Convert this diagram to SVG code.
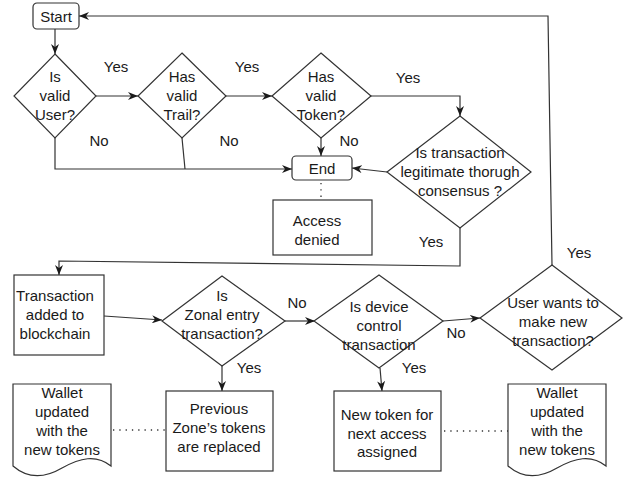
<svg xmlns="http://www.w3.org/2000/svg" width="623" height="478" viewBox="0 0 623 478">
  <style>
    .shape { fill: #ffffff; stroke: #333333; stroke-width: 1.2; }
    .edge { fill: none; stroke: #333333; stroke-width: 1.2; }
    .dot { fill: none; stroke: #333333; stroke-width: 1.3; stroke-dasharray: 1.3 5; }
    text { font-family: "Liberation Sans", Arial, sans-serif; font-size: 15px; fill: #1a1a1a; text-anchor: middle; }
  </style>
  <defs>
    <marker id="arrow" viewBox="0 0 10 8" refX="10" refY="4" markerWidth="10" markerHeight="8" markerUnits="userSpaceOnUse" orient="auto">
      <path d="M0,0 L10,4 L0,8 L3,4 Z" fill="#1a1a1a"/>
    </marker>
  </defs>
  <rect width="623" height="478" fill="#ffffff"/>

  <!-- connectors -->
  <g id="connectors">
    <path class="edge" d="M55,29 L55,54" marker-end="url(#arrow)"/>
    <path class="edge" d="M96,96 L138,96" marker-end="url(#arrow)"/>
    <path class="edge" d="M226,96 L272,96" marker-end="url(#arrow)"/>
    <path class="edge" d="M371,96 L460,96 L460,116" marker-end="url(#arrow)"/>
    <path class="edge" d="M321,138 L321,156" marker-end="url(#arrow)"/>
    <path class="edge" d="M387,172 L352,168" marker-end="url(#arrow)"/>
    <path class="edge" d="M55,138 L55,169 L292,169" marker-end="url(#arrow)"/>
    <path class="edge" d="M182,138 L185,169"/>
    <path class="dot" d="M321,183 L321,200"/>
    <path class="edge" d="M460,228 L460,266 L59,261 L59,275" marker-end="url(#arrow)"/>
    <path class="edge" d="M104,316 L162,320" marker-end="url(#arrow)"/>
    <path class="edge" d="M285,321 L315,321" marker-end="url(#arrow)"/>
    <path class="edge" d="M443,321 L480,318" marker-end="url(#arrow)"/>
    <path class="edge" d="M552,265 L548,16 L79,16" marker-end="url(#arrow)"/>
    <path class="edge" d="M222,366 L222,391" marker-end="url(#arrow)"/>
    <path class="edge" d="M380,368 L382,391" marker-end="url(#arrow)"/>
    <path class="dot" d="M113,430 L166,430"/>
    <path class="dot" d="M444,431 L508,431"/>
    <text x="116" y="72">Yes</text>
    <text x="247" y="72">Yes</text>
    <text x="99" y="146">No</text>
    <text x="229" y="146">No</text>
    <text x="408" y="83">Yes</text>
    <text x="349" y="146">No</text>
    <text x="431" y="247">Yes</text>
    <text x="579" y="258">Yes</text>
    <text x="297" y="308">No</text>
    <text x="456" y="338">No</text>
    <text x="249" y="373">Yes</text>
    <text x="414" y="373">Yes</text>
  </g>

  <g id="start">
    <rect class="shape" x="33" y="3" width="46" height="26" rx="4"/>
    <text x="56" y="22">Start</text>
  </g>

  <g id="valid-user">
    <polygon class="shape" points="55,54 96,96 55,138 14,96"/>
    <text x="55" y="82">Is</text>
    <text x="55" y="101">valid</text>
    <text x="55" y="120">User?</text>
  </g>

  <g id="valid-trail">
    <polygon class="shape" points="182,53 226,96 182,138 138,96"/>
    <text x="182" y="82">Has</text>
    <text x="182" y="101">valid</text>
    <text x="182" y="120">Trail?</text>
  </g>

  <g id="valid-token">
    <polygon class="shape" points="321,53 371,96 321,138 272,96"/>
    <text x="321" y="82">Has</text>
    <text x="321" y="101">valid</text>
    <text x="321" y="120">Token?</text>
  </g>

  <g id="consensus">
    <polygon class="shape" points="460,116 531,172 460,228 387,172"/>
    <text x="460" y="158">Is transaction</text>
    <text x="460" y="177">legitimate thorugh</text>
    <text x="460" y="196">consensus ?</text>
  </g>

  <g id="end">
    <rect class="shape" x="292" y="156" width="60" height="24" rx="4"/>
    <text x="322" y="174">End</text>
  </g>

  <g id="access-denied">
    <rect class="shape" x="273" y="200" width="99" height="55"/>
    <text x="317" y="226">Access</text>
    <text x="317" y="245">denied</text>
  </g>

  <g id="added-to-blockchain">
    <rect class="shape" x="14" y="275" width="90" height="80"/>
    <text x="55" y="301">Transaction</text>
    <text x="55" y="320">added to</text>
    <text x="55" y="339">blockchain</text>
  </g>

  <g id="zonal-entry">
    <polygon class="shape" points="222,276 285,321 222,366 162,321"/>
    <text x="222" y="301">Is</text>
    <text x="222" y="320">Zonal entry</text>
    <text x="222" y="339">transaction?</text>
  </g>

  <g id="device-control">
    <polygon class="shape" points="379,275 443,321 379,368 314,321"/>
    <text x="379" y="312">Is device</text>
    <text x="379" y="331">control</text>
    <text x="379" y="350">transaction</text>
  </g>

  <g id="new-transaction">
    <polygon class="shape" points="552,265 622,318 552,370 480,318"/>
    <text x="553" y="308">User wants to</text>
    <text x="553" y="327">make new</text>
    <text x="553" y="346">transaction?</text>
  </g>

  <g id="zone-tokens-replaced">
    <rect class="shape" x="166" y="391" width="107" height="80"/>
    <text x="219" y="414">Previous</text>
    <text x="219" y="433">Zone’s tokens</text>
    <text x="219" y="452">are replaced</text>
  </g>

  <g id="next-token-assigned">
    <rect class="shape" x="334" y="391" width="107" height="80"/>
    <text x="387" y="420">New token for</text>
    <text x="387" y="439">next access</text>
    <text x="387" y="457">assigned</text>
  </g>

  <g id="wallet-left">
    <path class="shape" d="M13,384 H111 V466 C96,454 80,458 62,468 C45,478 28,479 13,466 Z"/>
    <text x="62" y="398">Wallet</text>
    <text x="62" y="417">updated</text>
    <text x="62" y="436">with the</text>
    <text x="62" y="455">new tokens</text>
  </g>

  <g id="wallet-right">
    <path class="shape" d="M508,384 H606 V466 C591,454 575,458 557,468 C540,478 523,479 508,466 Z"/>
    <text x="557" y="398">Wallet</text>
    <text x="557" y="417">updated</text>
    <text x="557" y="436">with the</text>
    <text x="557" y="455">new tokens</text>
  </g>
</svg>
